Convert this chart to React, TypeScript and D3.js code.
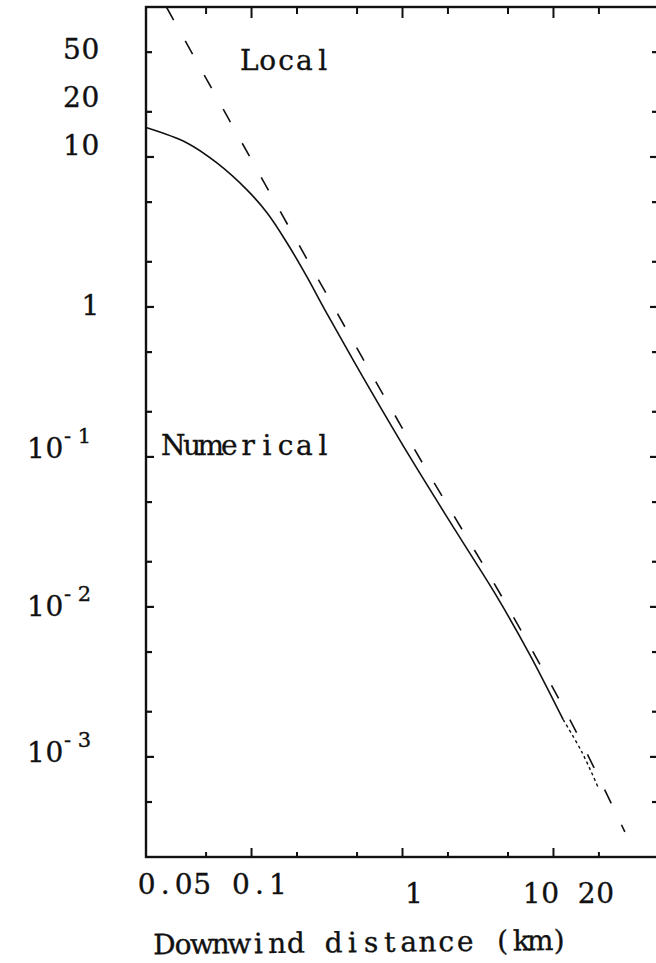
import React from "react";
import * as d3 from "d3";

// Axis domains (km on x, dimensionless value on y)
const xDomain = [0.02, 50];
const yDomain = [2.15e-4, 100];

// Tick marks
const xTickValues = [0.05, 0.1, 0.2, 0.5, 1, 2, 5, 10, 20];
const xMajorTicks = [0.1, 1, 10];
const xLabelValues = [0.05, 0.1, 1, 10, 20];
const xLabelTexts = ["0.05", "0.1", "1", "10", "20"];

const yTickValues = [50, 20, 10, 5, 2, 1, 0.5, 0.2, 0.1, 0.05, 0.02, 0.01, 0.005, 0.002, 0.001, 0.0005];
const yMajorTicks = [10, 1, 0.1, 0.01, 0.001];
const yLabelValues = [50, 20, 10, 1, 0.1, 0.01, 0.001];
const yLabelBase = ["50", "20", "10", "1", "10", "10", "10"];
const yLabelExp = ["", "", "", "", "-1", "-2", "-3"];

// "Local" solution (dashed)
const localX = [0.0273, 1.05, 4.84, 13.7, 29.7];
const localY = [100, 0.142, 0.0105, 0.00156, 0.000316];

// "Numerical" solution (solid, fading to dotted at long range)
const numericalX = [0.02, 0.0374, 0.059, 0.0933, 0.127, 0.172, 0.233, 0.306, 0.547, 1.12, 2.23, 4.23, 6.98, 11.6];
const numericalY = [15.7, 12.4, 9.12, 6.03, 4.23, 2.67, 1.585, 0.955, 0.341, 0.1, 0.0326, 0.01166, 0.00479, 0.00177];
const numericalTailX = [11.6, 15.4, 19.7];
const numericalTailY = [0.00177, 0.00108, 0.00063];

const FONT = "'DejaVu Serif', 'Liberation Serif', serif";
const PITCH = 18.6; // typewriter character pitch

// Centres of fixed-pitch character cells, starting at x0
function cells(str: string, x0: number, pitch = PITCH): string {
  return str
    .split("")
    .map((_, i) => (x0 + pitch * (i + 0.5)).toFixed(1))
    .join(" ");
}

function Typed(props: {
  text: string;
  x0: number;
  y: number;
  size?: number;
  pitch?: number;
  transform?: string;
}) {
  const { text, x0, y, size = 28, pitch = PITCH, transform } = props;
  return (
    <text
      x={cells(text, x0, pitch)}
      y={y}
      textAnchor="middle"
      fontFamily={FONT}
      fontSize={size}
      fill="#111"
      stroke="#111"
      strokeWidth={0.35}
      transform={transform}
    >
      {text}
    </text>
  );
}

export default function App() {
  const left = 146;
  const right = 659;
  const top = 7;
  const bottom = 857;

  const x = d3.scaleLog().domain(xDomain).range([left, right]);
  const y = d3.scaleLog().domain(yDomain).range([bottom, top]);

  const line = d3
    .line<[number, number]>()
    .x((d) => x(d[0]))
    .y((d) => y(d[1]))
    .curve(d3.curveCatmullRom.alpha(0.5));

  const localPath = line(localX.map((v, i) => [v, localY[i]] as [number, number])) || "";
  const numPath = line(numericalX.map((v, i) => [v, numericalY[i]] as [number, number])) || "";
  const tailPath = line(numericalTailX.map((v, i) => [v, numericalTailY[i]] as [number, number])) || "";

  // hand-set label offsets of the typed tick labels
  const yLabelShift = [7, -5, -2, 8, 1, 9, 5];
  const yLabelRight = [98, 98, 98, 98, 62, 62, 62];
  const xLabelShift = [-31.6, 8, 11.5, -12.5, -3];
  const xLabelBaseline = [894, 894, 903, 903, 903];

  const ink = "#111";

  return (
    <svg
      width={656}
      height={963}
      viewBox="0 0 656 963"
      style={{ position: "absolute", left: 0, top: 0, background: "#fff" }}
    >
      <rect x={0} y={0} width={656} height={963} fill="#fff" />

      {/* frame */}
      <rect x={left} y={top} width={right - left} height={bottom - top} fill="none" stroke={ink} strokeWidth={2.4} />

      {/* y ticks, left and right */}
      {yTickValues.map((v) => {
        const len = yMajorTicks.includes(v) ? 8 : 6;
        return (
          <g key={"yt" + v}>
            <line x1={left} x2={left + len} y1={y(v)} y2={y(v)} stroke={ink} strokeWidth={2.2} />
            <line x1={right} x2={right - len - 1} y1={y(v)} y2={y(v)} stroke={ink} strokeWidth={2.2} />
          </g>
        );
      })}

      {/* x ticks, bottom and top */}
      {xTickValues.map((v) => {
        const major = xMajorTicks.includes(v);
        return (
          <g key={"xt" + v}>
            <line x1={x(v)} x2={x(v)} y1={bottom} y2={bottom - (major ? 9 : 5)} stroke={ink} strokeWidth={2} />
            <line x1={x(v)} x2={x(v)} y1={top} y2={top + (major ? 11 : 7)} stroke={ink} strokeWidth={2} />
          </g>
        );
      })}

      {/* y labels */}
      {yLabelValues.map((v, i) => {
        const base = y(v) + yLabelShift[i];
        const txt = yLabelBase[i];
        const x0 = yLabelRight[i] - txt.length * 18.5 + 1.5;
        return (
          <g key={"yl" + v}>
            <Typed text={txt} x0={x0} y={base} pitch={18.5} />
            {yLabelExp[i] && (
              <Typed text={yLabelExp[i]} x0={59} y={base - 15} size={21} pitch={17} />
            )}
          </g>
        );
      })}

      {/* x labels */}
      {xLabelValues.map((v, i) => {
        const txt = xLabelTexts[i];
        const centre = x(v) + xLabelShift[i];
        return (
          <Typed
            key={"xl" + v}
            text={txt}
            x0={centre - (txt.length * 18.5) / 2}
            y={xLabelBaseline[i]}
            pitch={18.5}
          />
        );
      })}

      {/* curves */}
      <path d={localPath} fill="none" stroke={ink} strokeWidth={1.6} strokeDasharray="15,24" />
      <path d={numPath} fill="none" stroke={ink} strokeWidth={1.6} />
      <path d={tailPath} fill="none" stroke={ink} strokeWidth={1.4} strokeDasharray="3,3" />

      {/* curve annotations */}
      <Typed text="Local" x0={240} y={70} pitch={18.4} />
      <Typed text="Numerical" x0={164} y={455} pitch={18.7} />

      {/* axis title */}
      <Typed
        text="Downwind distance (km)"
        x0={155}
        y={952}
        pitch={18.8}
        transform="rotate(-0.6 363 952)"
      />
    </svg>
  );
}
